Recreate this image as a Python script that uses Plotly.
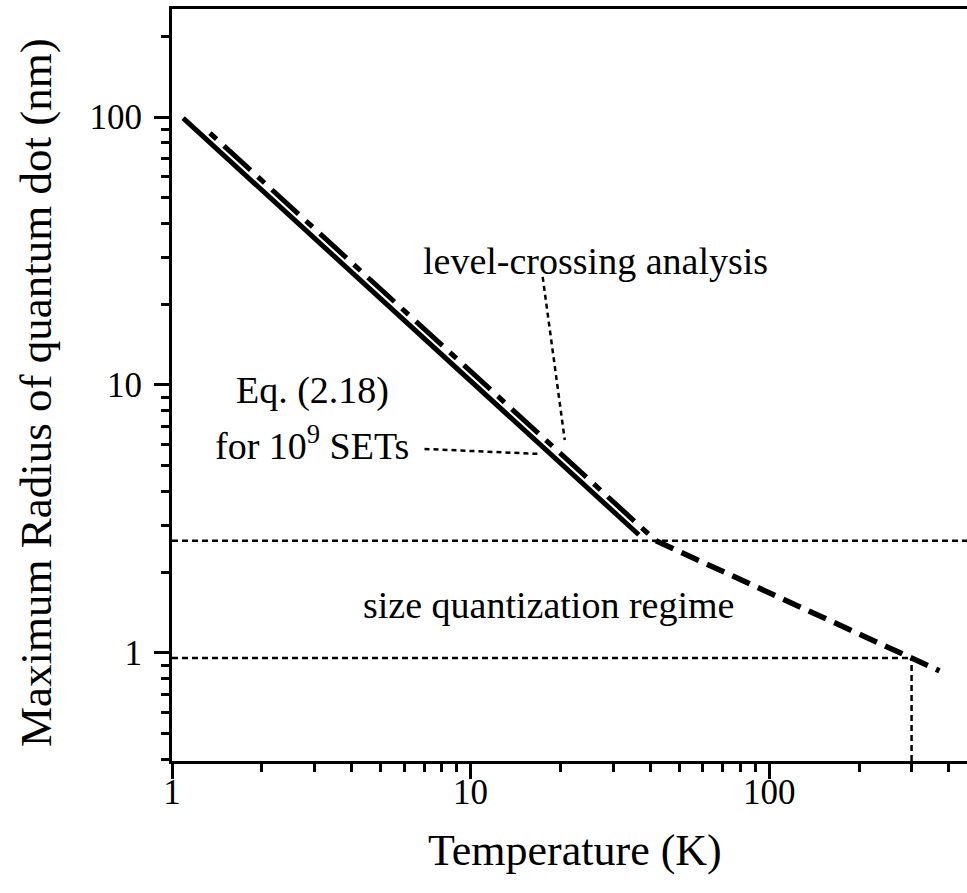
import numpy as np
import plotly.graph_objects as go

# Eq. (2.18) for 10^9 SETs: maximum dot radius vs temperature
eq_T = [1.09, 36.6]
eq_R = [99.0, 2.76]

# level-crossing analysis
lc_T = [1.34, 41.8]
lc_R = [87.1, 2.62]

# size quantization regime
sq_T = [41.8, 372.0]
sq_R = [2.62, 0.857]

# guide levels
boundary_R = 2.62      # onset of size quantization
room_T = 300.0         # room temperature
room_R = 0.957         # radius at room temperature

# leader lines from labels to curves
lc_lead_T = [17.44, 20.68]
lc_lead_R = [25.3, 6.23]
eq_lead_T = [7.01, 16.9]
eq_lead_R = [5.77, 5.53]

x_range = [1.0, 460.0]
y_range = [0.395, 253.0]

x_major = [1, 10, 100]
x_minor = [2, 3, 4, 5, 6, 7, 8, 9, 20, 30, 40, 50, 60, 70, 80, 90, 200, 300, 400]
y_major = [1, 10, 100]
y_minor = [0.4, 0.5, 0.6, 0.7, 0.8, 0.9, 2, 3, 4, 5, 6, 7, 8, 9,
           20, 30, 40, 50, 60, 70, 80, 90, 200]

FONT = "Liberation Serif, Times New Roman, serif"
BLACK = "#000000"
DOT = "6px,4px"

fig = go.Figure()

# horizontal / vertical guide lines
fig.add_trace(go.Scatter(x=[x_range[0], x_range[1]], y=[boundary_R, boundary_R], mode="lines",
                         line=dict(color=BLACK, width=2.5, dash=DOT), hoverinfo="skip"))
fig.add_trace(go.Scatter(x=[x_range[0], room_T], y=[room_R, room_R], mode="lines",
                         line=dict(color=BLACK, width=2.5, dash=DOT), hoverinfo="skip"))
fig.add_trace(go.Scatter(x=[room_T, room_T], y=[y_range[0], room_R], mode="lines",
                         line=dict(color=BLACK, width=2.5, dash=DOT), hoverinfo="skip"))

# leader lines
fig.add_trace(go.Scatter(x=lc_lead_T, y=lc_lead_R, mode="lines",
                         line=dict(color=BLACK, width=2.5, dash="5px,4px"), hoverinfo="skip"))
fig.add_trace(go.Scatter(x=eq_lead_T, y=eq_lead_R, mode="lines",
                         line=dict(color=BLACK, width=2.5, dash="5px,4px"), hoverinfo="skip"))

# curves
fig.add_trace(go.Scatter(x=eq_T, y=eq_R, mode="lines", name="Eq. (2.18)",
                         line=dict(color=BLACK, width=5)))
fig.add_trace(go.Scatter(x=lc_T, y=lc_R, mode="lines", name="level-crossing",
                         line=dict(color=BLACK, width=5, dash="9px,10px,36px,10px")))
fig.add_trace(go.Scatter(x=sq_T, y=sq_R, mode="lines", name="size quantization",
                         line=dict(color=BLACK, width=5.5, dash="19px,9px")))

axis_common = dict(
    type="log",
    showgrid=False,
    zeroline=False,
    showline=True,
    linecolor=BLACK,
    linewidth=3,
    ticks="outside",
    ticklen=15,
    tickwidth=2.5,
    tickcolor=BLACK,
    tickfont=dict(family=FONT, size=35, color=BLACK),
    tickmode="array",
)

fig.update_xaxes(
    **axis_common,
    range=[np.log10(x_range[0]), np.log10(x_range[1])],
    tickvals=x_major,
    ticktext=[str(v) for v in x_major],
    mirror=True,
    ticklabelstandoff=-17,
    minor=dict(tickmode="array", tickvals=x_minor, ticks="outside", ticklen=8,
               tickwidth=2.5, tickcolor=BLACK, showgrid=False),
)
fig.update_yaxes(
    **axis_common,
    range=[np.log10(y_range[0]), np.log10(y_range[1])],
    tickvals=y_major,
    ticktext=[str(v) for v in y_major],
    mirror=False,
    ticklabelstandoff=5,
    minor=dict(tickmode="array", tickvals=y_minor, ticks="outside", ticklen=8,
               tickwidth=2.5, tickcolor=BLACK, showgrid=False),
)

text_font = dict(family=FONT, size=38, color=BLACK)
annotations = [
    dict(x=1.4195, y=1.463, xref="x", yref="y", text="level-crossing analysis",
         showarrow=False, font=text_font, xanchor="center", yanchor="middle"),
    dict(x=0.47, y=0.981, xref="x", yref="y", text="Eq. (2.18)",
         showarrow=False, font=text_font, xanchor="center", yanchor="middle"),
    dict(x=0.47, y=0.784, xref="x", yref="y", text="for 10<sup>9</sup> SETs",
         showarrow=False, font=text_font, xanchor="center", yanchor="middle"),
    dict(x=1.262, y=0.179, xref="x", yref="y", text="size quantization regime",
         showarrow=False, font=text_font, xanchor="center", yanchor="middle"),
    # axis titles
    dict(x=(575 - 172) / 795, y=(761 - 850) / 752, xref="paper", yref="paper",
         text="Temperature (K)", showarrow=False,
         font=dict(family=FONT, size=44, color=BLACK), xanchor="center", yanchor="middle"),
    dict(x=(36 - 172) / 795, y=(761 - 393) / 752, xref="paper", yref="paper",
         text="Maximum Radius of quantum dot (nm)", showarrow=False, textangle=-90,
         font=dict(family=FONT, size=45, color=BLACK), xanchor="center", yanchor="middle"),
]

fig.update_layout(
    width=967,
    height=893,
    margin=dict(l=172, r=0, t=9, b=132),
    paper_bgcolor="white",
    plot_bgcolor="white",
    showlegend=False,
    annotations=annotations,
)

fig.write_html("out.html")
